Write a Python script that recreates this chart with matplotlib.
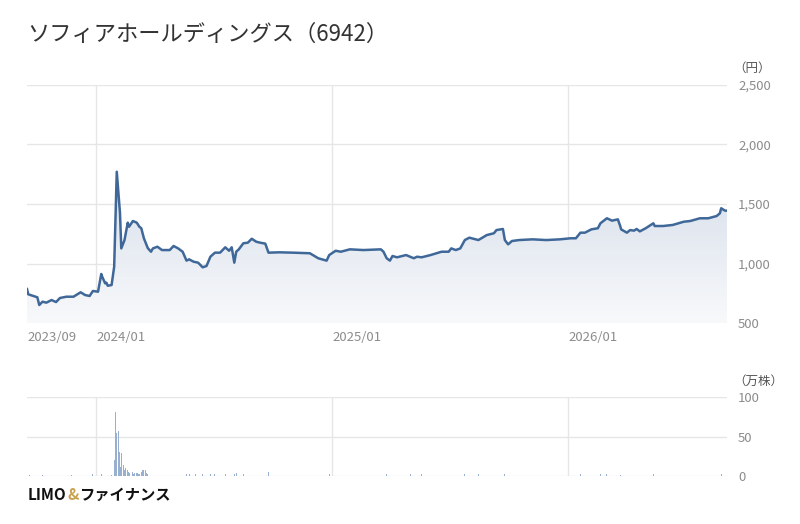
import matplotlib
matplotlib.use("Agg")
import matplotlib.pyplot as plt
import matplotlib.dates as mdates
from matplotlib.patches import Polygon
from matplotlib.colors import LinearSegmentedColormap
import numpy as np
import pandas as pd

plt.rcParams['font.family'] = ['Noto Sans CJK JP', 'DejaVu Sans']

title = "ソフィアホールディングス（6942）"

price_dates = [
    "2023-09-16", "2023-09-18", "2023-09-26", "2023-10-02", "2023-10-05", "2023-10-10",
    "2023-10-16", "2023-10-24", "2023-10-31", "2023-11-06", "2023-11-16", "2023-11-27",
    "2023-12-08", "2023-12-15", "2023-12-22", "2023-12-27", "2024-01-04", "2024-01-09",
    "2024-01-10", "2024-01-15", "2024-01-17", "2024-01-19", "2024-01-25", "2024-01-29",
    "2024-02-02", "2024-02-07", "2024-02-09", "2024-02-14", "2024-02-19", "2024-02-21",
    "2024-02-27", "2024-03-04", "2024-03-08", "2024-03-11", "2024-03-15", "2024-03-21",
    "2024-03-26", "2024-03-29", "2024-04-05", "2024-04-12", "2024-04-24", "2024-04-30",
    "2024-05-07", "2024-05-14", "2024-05-20", "2024-05-24", "2024-05-31", "2024-06-07",
    "2024-06-14", "2024-06-20", "2024-06-26", "2024-07-03", "2024-07-11", "2024-07-16",
    "2024-07-19", "2024-07-25", "2024-07-29", "2024-08-02", "2024-08-05", "2024-08-09",
    "2024-08-16", "2024-08-23", "2024-08-29", "2024-09-05", "2024-09-11", "2024-09-19",
    "2024-09-24", "2024-10-11", "2024-11-01", "2024-11-27", "2024-12-10", "2024-12-23",
    "2024-12-27", "2025-01-06", "2025-01-14", "2025-01-28", "2025-02-18", "2025-03-17",
    "2025-03-21", "2025-03-26", "2025-03-31", "2025-04-04", "2025-04-11", "2025-04-25",
    "2025-05-07", "2025-05-12", "2025-05-19", "2025-06-02", "2025-06-19", "2025-06-30",
    "2025-07-04", "2025-07-11", "2025-07-18", "2025-07-25", "2025-08-01", "2025-08-15",
    "2025-08-28", "2025-09-08", "2025-09-12", "2025-09-22", "2025-09-25", "2025-09-30",
    "2025-10-06", "2025-10-17", "2025-11-07", "2025-11-28", "2025-12-19", "2026-01-05",
    "2026-01-13", "2026-01-20", "2026-01-27", "2026-02-06", "2026-02-16", "2026-02-20",
    "2026-03-02", "2026-03-10", "2026-03-19", "2026-03-23", "2026-03-24", "2026-04-02",
    "2026-04-07", "2026-04-13", "2026-04-17", "2026-04-22", "2026-05-01", "2026-05-13",
    "2026-05-15", "2026-05-28", "2026-06-12", "2026-06-29", "2026-07-09", "2026-07-24",
    "2026-08-06", "2026-08-19", "2026-08-24", "2026-08-26", "2026-09-01", "2026-09-04",
]
price_values = [
    785, 741, 727, 716, 651, 679,
    671, 693, 676, 710, 721, 721,
    758, 735, 727, 769, 763, 912,
    895, 833, 839, 813, 819, 973,
    1771, 1424, 1127, 1197, 1343, 1309,
    1357, 1343, 1309, 1296, 1212, 1130,
    1099, 1127, 1141, 1113, 1113, 1147,
    1127, 1099, 1024, 1035, 1015, 1007,
    968, 979, 1057, 1091, 1091, 1119,
    1136, 1107, 1136, 1007, 1099, 1119,
    1170, 1175, 1208, 1183, 1175, 1167,
    1091, 1094, 1091, 1086, 1044, 1024,
    1071, 1107, 1099, 1119, 1113, 1119,
    1099, 1044, 1024, 1063, 1052, 1071,
    1044, 1057, 1052, 1071, 1099, 1099,
    1127, 1113, 1127, 1197, 1217, 1197,
    1239, 1254, 1281, 1290, 1197, 1161,
    1189, 1197, 1203, 1197, 1203, 1212,
    1212, 1259, 1259, 1287, 1296, 1338,
    1380, 1360, 1371, 1309, 1287, 1259,
    1281, 1276, 1290, 1270, 1296, 1338,
    1315, 1315, 1324, 1351, 1357, 1380,
    1380, 1399, 1422, 1464, 1444, 1444,
]

volume_dates = [
    "2023-09-20", "2023-10-10", "2023-11-20", "2023-11-24", "2023-12-26", "2024-01-09",
    "2024-01-25", "2024-01-29", "2024-01-30", "2024-01-31", "2024-02-01", "2024-02-02",
    "2024-02-05", "2024-02-06", "2024-02-07", "2024-02-08", "2024-02-09", "2024-02-13",
    "2024-02-14", "2024-02-15", "2024-02-16", "2024-02-19", "2024-02-20", "2024-02-21",
    "2024-02-22", "2024-02-26", "2024-02-27", "2024-02-28", "2024-02-29", "2024-03-01",
    "2024-03-04", "2024-03-05", "2024-03-06", "2024-03-07", "2024-03-08", "2024-03-11",
    "2024-03-12", "2024-03-13", "2024-03-14", "2024-03-15", "2024-03-18", "2024-03-19",
    "2024-03-21", "2024-03-26",
    "2024-05-20", "2024-05-24", "2024-06-03", "2024-06-14", "2024-06-26", "2024-07-03",
    "2024-07-19", "2024-08-02", "2024-08-05", "2024-08-16", "2024-09-24", "2024-12-27",
    "2025-03-26", "2025-05-02", "2025-05-19", "2025-07-25", "2025-08-15", "2025-09-22",
    "2025-09-25", "2026-01-20", "2026-02-20", "2026-03-02", "2026-03-23", "2026-05-13",
    "2026-08-26",
]
volume_values = [
    1, 1.5, 2, 1.5, 2, 2,
    1.5, 8, 20, 81, 45, 55,
    57, 30, 18, 12, 29, 14,
    8, 10, 6, 7, 5, 6,
    4, 5, 4, 3, 4, 3,
    4, 4, 3, 3, 3, 5,
    11, 8, 7, 8, 7, 4,
    3, 2,
    3, 2, 3, 2, 3, 3,
    3, 3, 4, 3, 5, 2,
    2, 2, 2, 2, 2, 2,
    2, 2, 2, 2, 1.5, 2,
    2,
]

x_start = "2023-09-16"
x_end = "2026-09-04"
grid_dates = ["2024-01-01", "2025-01-01", "2026-01-01"]
x_tick_labels = ["2023/09", "2024/01", "2025/01", "2026/01"]
price_ticks = [500, 1000, 1500, 2000, 2500]
price_tick_labels = ["500", "1,000", "1,500", "2,000", "2,500"]
vol_ticks = [0, 50, 100]
vol_tick_labels = ["0", "50", "100"]

line_color = "#3f6899"
grid_color = "#e6e6e6"
tick_color = "#8c8c8c"

fig = plt.figure(figsize=(8, 5.24), dpi=100)
W, H = 800, 524

def axrect(l, t, r, b):
    return [l / W, 1 - b / H, (r - l) / W, (b - t) / H]

ax = fig.add_axes(axrect(27, 85, 727, 323))
axv = fig.add_axes(axrect(27, 397, 727, 476))

px = mdates.date2num(pd.to_datetime(price_dates))
py = np.array(price_values, dtype=float)
x0 = mdates.date2num(pd.Timestamp(x_start))
x1 = mdates.date2num(pd.Timestamp(x_end))
xt = [x0] + list(mdates.date2num(pd.to_datetime(grid_dates)))

for a in (ax, axv):
    a.set_xlim(x0, x1)
    for s in a.spines.values():
        s.set_visible(False)
    a.set_xticks(xt)
    a.tick_params(length=0, colors=tick_color, labelsize=9.5)
    a.grid(True, color=grid_color, linewidth=1)
    a.set_axisbelow(True)
    a.yaxis.tick_right()
    a.get_xgridlines()[0].set_visible(False)

ax.set_ylim(500, 2500)
ax.set_yticks(price_ticks)
ax.set_yticklabels(price_tick_labels)
ax.set_xticklabels(x_tick_labels, ha="left")
ax.tick_params(axis="y", pad=8)
ax.tick_params(axis="x", pad=6)

# gradient fill under line
verts = [(px[0], 500)] + list(zip(px, py)) + [(px[-1], 500)]
poly = Polygon(verts, closed=True, facecolor="none", edgecolor="none")
ax.add_patch(poly)
cmap = LinearSegmentedColormap.from_list("g", ["#f8f9fb", "#d6deea"])
grad = np.linspace(0, 1, 256).reshape(-1, 1)
im = ax.imshow(grad, extent=[x0, x1, 500, 1800], origin="lower", aspect="auto",
               cmap=cmap, zorder=1, interpolation="bicubic")
im.set_clip_path(poly)
ax.set_xlim(x0, x1)
ax.set_ylim(500, 2500)
ax.plot(px, py, color=line_color, linewidth=1.8, zorder=3, solid_joinstyle="round")

vx = mdates.date2num(pd.to_datetime(volume_dates))
axv.bar(vx, volume_values, width=1.3, color="#98afd0", zorder=2)
axv.set_ylim(0, 100)
axv.set_yticks(vol_ticks)
axv.set_yticklabels(vol_tick_labels)
axv.set_xticklabels([])
axv.tick_params(axis="y", pad=8)

fig.text(27 / W, 1 - 34 / H, title, fontsize=16, color="#333333", va="center", ha="left")
fig.text(733 / W, 1 - 68 / H, "（円）", fontsize=9, color="#555555", va="center", ha="left")
fig.text(733 / W, 1 - 381 / H, "（万株）", fontsize=9, color="#555555", va="center", ha="left")

ly = 1 - 495 / H
t1 = fig.text(28 / W, ly, "LIMO", fontsize=11, fontweight="bold", color="#111111",
              va="center", ha="left")
t2 = fig.text(0, 0, "&", fontsize=11, fontweight="bold", color="#c9a24f", va="center", ha="left")
t3 = fig.text(0, 0, "ファイナンス", fontsize=11, fontweight="bold", color="#111111",
              va="center", ha="left")
fig.canvas.draw()
r = fig.canvas.get_renderer()
bb1 = t1.get_window_extent(r)
t2.set_position((bb1.x1 / W + 1 / W, ly))
fig.canvas.draw()
bb2 = t2.get_window_extent(r)
t3.set_position((bb2.x1 / W, ly))

fig.savefig("out.png", dpi=100)
